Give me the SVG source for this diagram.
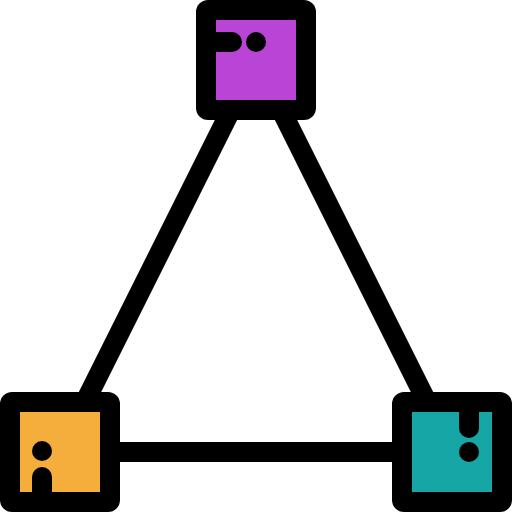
<svg xmlns="http://www.w3.org/2000/svg" width="512" height="512" viewBox="0 0 512 512">
  <style>
    .edge { stroke: #000; stroke-width: 20; fill: none; }
    .frame { fill: #000; }
    .mark { fill: #000; }
  </style>
  <rect width="512" height="512" fill="#fff"/>
  <g id="connectors">
    <line class="edge" x1="256" y1="60" x2="60" y2="452"/>
    <line class="edge" x1="256" y1="60" x2="452" y2="452"/>
    <line class="edge" x1="60" y1="452" x2="452" y2="452"/>
  </g>
  <g id="node-top">
    <rect class="frame" x="196" y="0" width="120" height="120" rx="12"/>
    <rect x="216" y="20" width="80" height="80" fill="#B944D5"/>
    <path class="mark" d="M216 32 H232 A10 10 0 0 1 232 52 H216 Z"/>
    <circle class="mark" cx="256" cy="42" r="10"/>
  </g>
  <g id="node-left">
    <rect class="frame" x="0" y="392" width="120" height="120" rx="12"/>
    <rect x="20" y="412" width="80" height="80" fill="#F5AD3B"/>
    <circle class="mark" cx="42" cy="451" r="10"/>
    <path class="mark" d="M32 492 V477 A10 10 0 0 1 52 477 V492 Z"/>
  </g>
  <g id="node-right">
    <rect class="frame" x="392" y="392" width="120" height="120" rx="12"/>
    <rect x="412" y="412" width="80" height="80" fill="#16A6A6"/>
    <path class="mark" d="M459 412 V428 A10 10 0 0 0 479 428 V412 Z"/>
    <circle class="mark" cx="469" cy="452" r="10"/>
  </g>
</svg>
